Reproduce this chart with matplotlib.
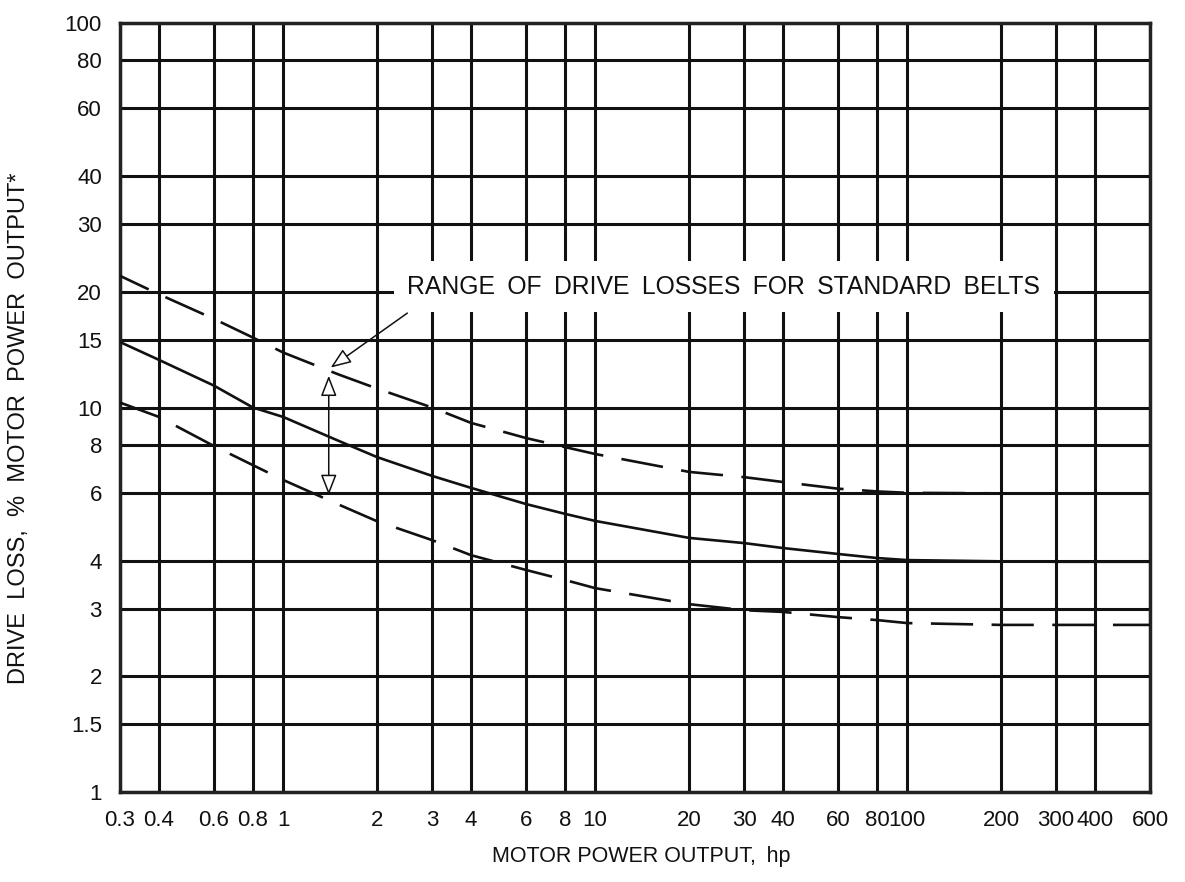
import matplotlib
matplotlib.use("Agg")
import matplotlib.pyplot as plt
from matplotlib.patches import FancyArrowPatch

# ---- data ----
x_hp = [0.3, 0.4, 0.6, 0.8, 1, 1.5, 2, 3, 4, 6, 8, 10, 20, 30, 40, 60, 80, 100, 200, 300, 400, 600]
upper_loss = [22.0, 19.7, 17.0, 15.2, 13.9, 12.2, 11.2, 10.0, 9.12, 8.33, 7.89, 7.57, 6.80, 6.59,
              6.40, 6.15, 6.05, 6.0, 5.98, 5.97, 5.97, 5.97]
typical_loss = [14.8, 13.3, 11.4, 10.0, 9.45, 8.2, 7.43, 6.64, 6.18, 5.61, 5.29, 5.07, 4.58, 4.44,
                4.31, 4.16, 4.06, 4.01, 3.98, 3.97, 3.97, 3.97]
lower_loss = [10.3, 9.45, 7.94, 7.08, 6.48, 5.6, 5.06, 4.52, 4.13, 3.78, 3.56, 3.39, 3.08, 2.97,
              2.94, 2.85, 2.80, 2.75, 2.72, 2.72, 2.72, 2.72]

x_ticks = [0.3, 0.4, 0.6, 0.8, 1, 2, 3, 4, 6, 8, 10, 20, 30, 40, 60, 80, 100, 200, 300, 400, 600]
x_ticklabels = ["0.3", "0.4", "0.6", "0.8", "1", "2", "3", "4", "6", "8", "10", "20", "30", "40",
                "60", "80", "100", "200", "300", "400", "600"]
y_ticks = [1, 1.5, 2, 3, 4, 6, 8, 10, 15, 20, 30, 40, 60, 80, 100]
y_ticklabels = ["1", "1.5", "2", "3", "4", "6", "8", "10", "15", "20", "30", "40", "60", "80", "100"]

range_x = 1.4
range_top = 12.1
range_bottom = 5.92
annot_text = "RANGE\u2002OF\u2002DRIVE\u2002LOSSES\u2002FOR\u2002STANDARD\u2002BELTS"
annot_text_pos = (2.5, 20.6)
annot_tail = (2.5, 17.6)
annot_head = (1.42, 12.7)

plt.rcParams['font.family'] = ['Liberation Sans', 'DejaVu Sans']
ink = '#111111'

fig = plt.figure(figsize=(11.85, 8.82), dpi=100)
ax = fig.add_axes([120 / 1185, 1 - 792 / 882, 1030 / 1185, 769 / 882])
ax.set_xscale('log')
ax.set_yscale('log')
ax.set_xlim(0.3, 600)
ax.set_ylim(1, 100)

ax.set_xticks(x_ticks)
ax.set_xticklabels(x_ticklabels)
ax.set_yticks(y_ticks)
ax.set_yticklabels(y_ticklabels)
ax.minorticks_off()
ax.tick_params(axis='both', length=0, labelsize=16, colors=ink)
ax.tick_params(axis='x', pad=13)
ax.tick_params(axis='y', pad=13)

ax.grid(True, which='major', color=ink, linewidth=2.2)
ax.set_axisbelow(True)
for s in ax.spines.values():
    s.set_linewidth(2.5)
    s.set_color('#222222')

lw = 1.9
ax.plot(x_hp, typical_loss, color=ink, lw=lw, zorder=3)
ax.plot(x_hp, upper_loss, color=ink, lw=lw, linestyle=(4, (16, 7)), zorder=3)
ax.plot(x_hp, lower_loss, color=ink, lw=lw, linestyle=(0, (16, 7)), zorder=3)

# double-headed range arrow with open heads
ax.add_patch(FancyArrowPatch((range_x, range_bottom), (range_x, range_top),
                             arrowstyle='<|-|>,head_length=0.9,head_width=0.35',
                             mutation_scale=14, lw=1.1, edgecolor=ink,
                             facecolor='white', zorder=4, shrinkA=0, shrinkB=0))

# label box and leader arrow
ax.text(annot_text_pos[0], annot_text_pos[1], annot_text, fontsize=17.8, color=ink,
        ha='left', va='center', zorder=5,
        bbox=dict(boxstyle='square,pad=0.55', facecolor='white', edgecolor='none'))
ax.add_patch(FancyArrowPatch(annot_tail, annot_head,
                             arrowstyle='-|>,head_length=0.9,head_width=0.35',
                             mutation_scale=14, lw=1.1, edgecolor=ink,
                             facecolor='white', zorder=6, shrinkA=0, shrinkB=0))

ax.set_xlabel("MOTOR POWER OUTPUT,\u2002hp", fontsize=15.5, color=ink)
ax.set_ylabel("DRIVE  LOSS,  %  MOTOR  POWER  OUTPUT*", fontsize=17, color=ink)
ax.xaxis.set_label_coords((641 - 120) / 1030, (792 - 846) / 769)
ax.yaxis.set_label_coords((30 - 120) / 1030, (792 - 428) / 769)

fig.savefig("out.png", dpi=100)
